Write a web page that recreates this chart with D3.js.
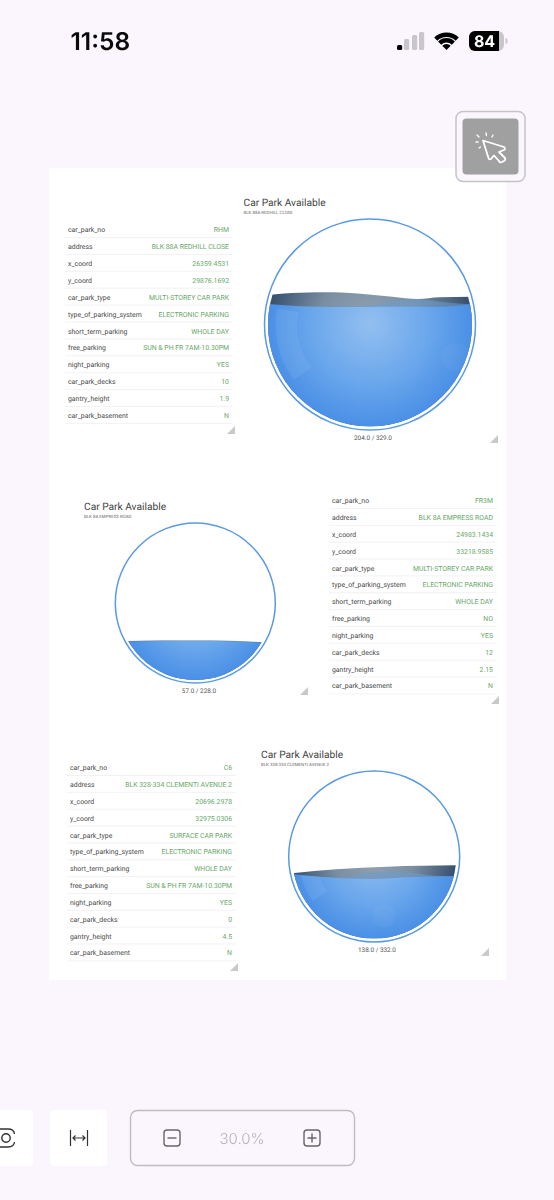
<!DOCTYPE html>
<html><head><meta charset="utf-8">
<script src="https://cdn.jsdelivr.net/npm/d3@7"></script>
<style>
html,body{margin:0;padding:0;background:#fbf6fe;overflow:hidden}
svg{display:block;font-family:Roboto,sans-serif;filter:blur(.3px);text-rendering:geometricPrecision}
</style></head><body>
<svg id="c" width="554" height="1200"></svg>
<script>
// ---------- data ----------
const tableKeys = ["car_park_no","address","x_coord","y_coord","car_park_type","type_of_parking_system","short_term_parking","free_parking","night_parking","car_park_decks","gantry_height","car_park_basement"];
const valuesA = ["RHM","BLK 88A REDHILL CLOSE","26359.4531","29876.1692","MULTI-STOREY CAR PARK","ELECTRONIC PARKING","WHOLE DAY","SUN & PH FR 7AM-10.30PM","YES","10","1.9","N"];
const valuesB = ["FR3M","BLK 8A EMPRESS ROAD","24983.1434","33218.9585","MULTI-STOREY CAR PARK","ELECTRONIC PARKING","WHOLE DAY","NO","YES","12","2.15","N"];
const valuesC = ["C6","BLK 328-334 CLEMENTI AVENUE 2","20696.2978","32975.0306","SURFACE CAR PARK","ELECTRONIC PARKING","WHOLE DAY","SUN & PH FR 7AM-10.30PM","YES","0","4.5","N"];
const chartTitle = "Car Park Available";
const subtitles = ["BLK 88A REDHILL CLOSE","BLK 8A EMPRESS ROAD","BLK 328-334 CLEMENTI AVENUE 2"];
const available = [204.0,57.0,138.0];
const capacity = [329.0,228.0,332.0];
// wave outlines: [position across the gauge 0-1, fill level 0-1]
const backA = [[0,.645],[.157,.656],[.319,.658],[.48,.648],[.61,.636],[.735,.625],[.84,.633],[1,.636]];
const midA  = [[0,.59],[.35,.587],[.48,.592],[.6,.612],[.735,.624],[.84,.612],[1,.598]];
const frontA= [[0,.60],[.16,.59],[.32,.586],[.48,.586],[.66,.587],[.84,.586],[1,.60]];
const backB = [[0,.25],[.06,.253],[.3,.257],[.6,.257],[.93,.245],[1,.24]];
const midB  = [[0,.25],[.06,.252],[.3,.256],[.6,.256],[.93,.245],[1,.24]];
const frontB= [[0,.25],[.06,.25],[.3,.254],[.6,.254],[.93,.243],[1,.24]];
const backC = [[0,.398],[.27,.422],[.577,.438],[1,.446]];
const midC  = [[0,.385],[.3,.372],[.45,.396],[.58,.407],[.72,.402],[.85,.384],[1,.378]];
const frontC= [[0,.393],[.27,.369],[.5,.363],[.7,.373],[1,.381]];
const waves = [[backA,midA,frontA],[backB,midB,frontB],[backC,midC,frontC]];
const tables = [valuesA,valuesB,valuesC];

// ---------- layout ----------
const gauges = [
 {cx:370,cy:324.5,R:105.5,r:102,tx:243.5,ty:206,sy:214,lx:373,ly:439.5,grip:[494,439]},
 {cx:195.3,cy:603,R:80,r:77,tx:84,ty:510,sy:518,lx:199,ly:693,grip:[304,691]},
 {cx:374.2,cy:856.5,R:85.5,r:82,tx:261,ty:757.7,sy:765.7,lx:377,ly:952,grip:[485,952]}
];
const tableLayout = [
 {x0:65,x1:233,lx:68,rx:229,y0:229.7,dy:16.9,grip:[231,430]},
 {x0:329,x1:497,lx:332,rx:493,y0:500.7,dy:16.85,grip:[495,700]},
 {x0:67,x1:236,lx:70,rx:232,y0:767.7,dy:16.85,grip:[234,967]}
];
const svg = d3.select("#c");
const defs = svg.append("defs");
svg.append("rect").attr("x",49).attr("y",168).attr("width",457).attr("height",812).attr("fill","#fff");

function grip(g,[x,y]){
  g.append("path").attr("d",d3.line()([[x+4,y-4],[x+4,y+4],[x-4,y+4]])+"Z").attr("fill","#c9c9c9");
}

// ---------- tables ----------
tableLayout.forEach((t,ti)=>{
  const g = svg.append("g");
  const y = d3.scalePoint().domain(tableKeys).range([t.y0,t.y0+t.dy*(tableKeys.length-1)]);
  const rows = g.selectAll("g").data(tableKeys).join("g").attr("transform",d=>`translate(0,${y(d)})`);
  rows.append("line").attr("x1",t.x0).attr("x2",t.x1).attr("y1",7.8).attr("y2",7.8).attr("stroke","#ededed").attr("stroke-width",.7);
  rows.append("text").attr("x",t.lx).attr("y",2.4).attr("font-size",6.9).attr("fill","#4a4a4a").text(d=>d);
  rows.append("text").attr("x",t.rx).attr("y",2.4).attr("font-size",6.9).attr("text-anchor","end").attr("fill","#6aa86a")
      .text((d,i)=>tables[ti][i]);
  grip(g,t.grip);
});

// ---------- gauges ----------
const blueStops = [[0,"#93bff0"],[.55,"#6ca8ec"],[1,"#4a90e6"]];
const greyStops = [[0,"#93a5b6"],[.5,"#7a8ea2"],[1,"#37506f"]];

gauges.forEach((c,i)=>{
  const g = svg.append("g");
  g.append("text").attr("x",c.tx).attr("y",c.ty).attr("font-size",10.2).attr("fill","#444").text(chartTitle);
  g.append("text").attr("x",c.tx).attr("y",c.sy).attr("font-size",4.4).attr("fill","#666").text(subtitles[i]);
  g.append("text").attr("x",c.lx).attr("y",c.ly).attr("font-size",6.4).attr("text-anchor","middle").attr("fill","#555")
    .text(available[i].toFixed(1)+" / "+capacity[i].toFixed(1));
  g.append("circle").attr("cx",c.cx).attr("cy",c.cy).attr("r",c.R).attr("fill","none").attr("stroke","#5b9ae2").attr("stroke-width",1.5);

  defs.append("clipPath").attr("id","clip"+i).append("circle").attr("cx",c.cx).attr("cy",c.cy).attr("r",c.r);
  const x = d3.scaleLinear([0,1],[c.cx-c.r,c.cx+c.r]);
  const y = d3.scaleLinear([0,1],[c.cy+c.r,c.cy-c.r]);
  const area = d3.area().x(d=>x(d[0])).y1(d=>y(d[1])).y0(y(0)).curve(d3.curveMonotoneX);
  const water = g.append("g").attr("clip-path",`url(#clip${i})`);
  const [back,mid,front] = waves[i];
  const mk = (id,stops)=>{
    const gr = defs.append("radialGradient").attr("id",id+i).attr("gradientUnits","userSpaceOnUse")
      .attr("cx",c.cx).attr("cy",c.cy).attr("r",c.r);
    stops.forEach(([o,col])=>gr.append("stop").attr("offset",o).attr("stop-color",col));
  };
  mk("b",blueStops); mk("k",greyStops);
  water.append("path").datum(back).attr("d",area).attr("fill",`url(#k${i})`);
  water.append("path").datum(mid).attr("d",area).attr("fill","#6c9ccd").attr("opacity",.55);
  water.append("path").datum(front).attr("d",area).attr("fill",`url(#b${i})`);

  // soft glare shapes inside the water
  const fc = water.append("g");
  defs.append("clipPath").attr("id","wclip"+i).append("path").datum(front).attr("d",area);
  fc.attr("clip-path",`url(#wclip${i})`);
  const arc = d3.arc().innerRadius(c.r*.715).outerRadius(c.r*.925);
  fc.append("path").attr("transform",`translate(${c.cx},${c.cy})`)
    .attr("d",arc({startAngle:-1.4,endAngle:-2.2})).attr("fill","#fff").attr("opacity",i===1?0:.07);
  fc.append("circle").attr("cx",c.cx+c.r*(i===2?.12:.84)).attr("cy",c.cy+c.r*(i===2?.72:.32)).attr("r",c.r*.14)
    .attr("fill","#fff").attr("opacity",i===1?0:.035);
  grip(g,c.grip);
});

// ---------- phone chrome ----------
const ui = svg.append("g");
ui.append("text").attr("x",70.5).attr("y",49.5).attr("font-family","Inter,Roboto,sans-serif").attr("font-weight",600).attr("font-size",24.5).attr("fill","#0a0a0a").text("11:58");
const bars=[[397,5],[404,11],[412,15],[419,18]];
ui.selectAll("rect.s").data(bars).join("rect").attr("x",d=>d[0]).attr("y",d=>50-d[1]).attr("width",5.2).attr("height",d=>d[1]).attr("rx",1.5)
  .attr("fill",(d,i)=>i?"#c9c5cc":"#000");
const wf = ui.append("g").attr("transform","translate(446.5,50)");
[[13,17.5],[7.5,12],[0,6]].forEach(([a,b])=>{
  wf.append("path").attr("d",d3.arc().innerRadius(a).outerRadius(b).startAngle(-.78).endAngle(.78)()).attr("fill","#000");
});
ui.append("rect").attr("x",469).attr("y",31).attr("width",35).attr("height",20).attr("rx",6).attr("fill","#c9c5cc");
ui.append("path").attr("d","M475,31H499V51H475A6,6 0 0 1 469,45V37A6,6 0 0 1 475,31Z").attr("fill","#000");
ui.append("path").attr("d","M505.5,38a2,3 0 0 1 0,6Z").attr("fill","#c9c5cc");
ui.append("text").attr("x",484.5).attr("y",47).attr("text-anchor","middle").attr("font-family","Inter,Roboto,sans-serif").attr("font-weight",700).attr("font-size",16).attr("fill","#fff").text("84");

ui.append("rect").attr("x",456).attr("y",111.5).attr("width",69).attr("height",70).attr("rx",7).attr("fill","#fbf6fe").attr("stroke","#c4c4c4").attr("stroke-width",1.5);
ui.append("rect").attr("x",462.5).attr("y",118.5).attr("width",56).attr("height",56).attr("rx",4).attr("fill","#a0a0a0");
const cur = ui.append("g").attr("fill","none").attr("stroke","#fff").attr("stroke-width",1.8).attr("stroke-linecap","round").attr("stroke-linejoin","round");
cur.append("path").attr("d","M483,140.5L504,147Q506,149 504,150L499,152L505,158Q506,160 504,161L502,162Q500,163 499,161L494,155.5L491,159Q489,160 488.5,158Z");
[[477,135,479,137],[486,133,486.5,135.5],[493,135,492,137],[476,142,478,142],[479,148,480.5,147]].forEach(([a,b,c,d])=>{
  cur.append("line").attr("x1",a).attr("y1",b).attr("x2",c).attr("y2",d).attr("stroke-width",1.3);
});

ui.append("rect").attr("x",-8).attr("y",1110).attr("width",41).attr("height",56).attr("rx",4).attr("fill","#fff");
ui.append("rect").attr("x",50).attr("y",1110).attr("width",57).attr("height",56).attr("rx",4).attr("fill","#fff");
ui.append("circle").attr("cx",6).attr("cy",1138).attr("r",4.2).attr("fill","none").attr("stroke","#333").attr("stroke-width",1.4);
ui.append("path").attr("d","M0,1129H8Q14,1129 14.5,1134M14.5,1142Q14,1147 8,1147H0").attr("fill","none").attr("stroke","#333").attr("stroke-width",1.4);
ui.append("path").attr("d","M70.5,1130V1146M87.5,1130V1146M73,1138H85M75.5,1135.5L73,1138L75.5,1140.5M82.5,1135.5L85,1138L82.5,1140.5").attr("fill","none").attr("stroke","#333").attr("stroke-width",1.2);
ui.append("rect").attr("x",130.5).attr("y",1110.5).attr("width",224).attr("height",55).attr("rx",7).attr("fill","#fbf6fe").attr("stroke","#bdbdbd").attr("stroke-width",1.4);
[[172,false],[312,true]].forEach(([x,plus])=>{
  ui.append("rect").attr("x",x-8).attr("y",1130).attr("width",16).attr("height",16).attr("rx",3).attr("fill","none").attr("stroke","#666").attr("stroke-width",1.4);
  ui.append("path").attr("d",`M${x-4.5},1138H${x+4.5}`+(plus?`M${x},1133.5V1142.5`:"")).attr("stroke","#666").attr("stroke-width",1.4);
});
ui.append("text").attr("x",242).attr("y",1144).attr("text-anchor","middle").attr("font-family","Inter,Roboto,sans-serif").attr("font-weight",300).attr("font-size",15).attr("fill","#b3b3b3").text("30.0%");
</script>
</body></html>
